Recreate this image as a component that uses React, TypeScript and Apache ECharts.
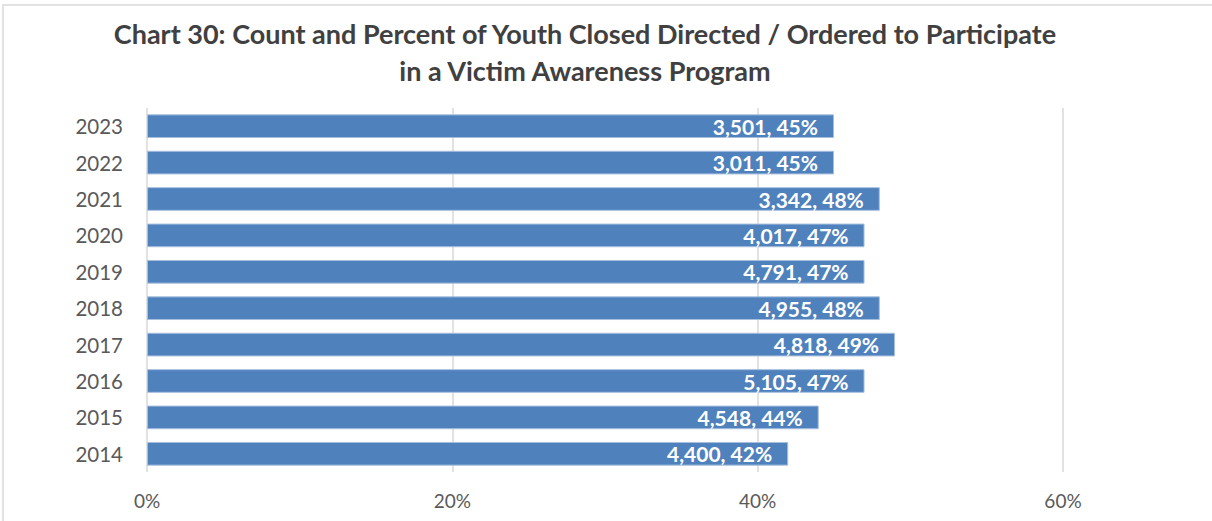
import React, { useEffect, useRef } from "react";
import * as echarts from "echarts";

const years = ["2014", "2015", "2016", "2017", "2018", "2019", "2020", "2021", "2022", "2023"];
const percents = [42, 44, 47, 49, 48, 47, 47, 48, 45, 45];
const counts = [4400, 4548, 5105, 4818, 4955, 4791, 4017, 3342, 3011, 3501];
const xTicks = [0, 20, 40, 60];

const FONT = "Lato, 'Noto Sans', sans-serif";

export default function App() {
  const ref = useRef<HTMLDivElement>(null);
  useEffect(() => {
    if (!ref.current) return;
    const chart = echarts.init(ref.current, undefined, { renderer: "svg" });
    chart.setOption({
      animation: false,
      backgroundColor: "#ffffff",
      title: {
        text: "Chart 30: Count and Percent of Youth Closed Directed / Ordered to Participate\nin a Victim Awareness Program",
        left: 580,
        top: 10,
        textAlign: "center",
        textStyle: {
          fontFamily: FONT,
          fontSize: 27,
          fontWeight: "bold",
          color: "#404040",
          lineHeight: 37,
        },
      },
      graphic: [
        {
          type: "rect",
          shape: { x: 3, y: 5, width: 1240, height: 600 },
          style: { fill: "none", stroke: "#d9d9d9", lineWidth: 1.5 },
          silent: true,
        },
      ],
      grid: { left: 147, top: 108, width: 916, height: 364, containLabel: false },
      xAxis: {
        type: "value",
        min: 0,
        max: 60,
        interval: 20,
        axisLine: { show: false },
        axisTick: { show: false },
        splitLine: { show: true, lineStyle: { color: "#d9d9d9", width: 1.5 } },
        axisLabel: {
          formatter: (v: number) => (xTicks.includes(v) ? v + "%" : ""),
          fontFamily: FONT,
          fontSize: 19,
          color: "#595959",
          margin: 19,
        },
      },
      yAxis: {
        type: "category",
        data: years,
        axisLine: { show: false },
        axisTick: { show: false },
        axisLabel: { fontFamily: FONT, fontSize: 20.5, color: "#595959", margin: 24 },
      },
      series: [
        {
          type: "bar",
          data: percents,
          barCategoryGap: "35%",
          itemStyle: { color: "#4f81bd", borderColor: "#a7bfde", borderWidth: 1 },
          label: {
            show: true,
            position: "insideRight",
            distance: 16,
            formatter: (p: any) => counts[p.dataIndex].toLocaleString("en-US") + ", " + p.value + "%",
            color: "#ffffff",
            fontFamily: FONT,
            fontSize: 21,
            fontWeight: "bold",
          },
        },
      ],
    });
    return () => chart.dispose();
  }, []);
  return (
    <div
      ref={ref}
      style={{ position: "fixed", left: 0, top: 0, width: 1212, height: 521 }}
    />
  );
}
